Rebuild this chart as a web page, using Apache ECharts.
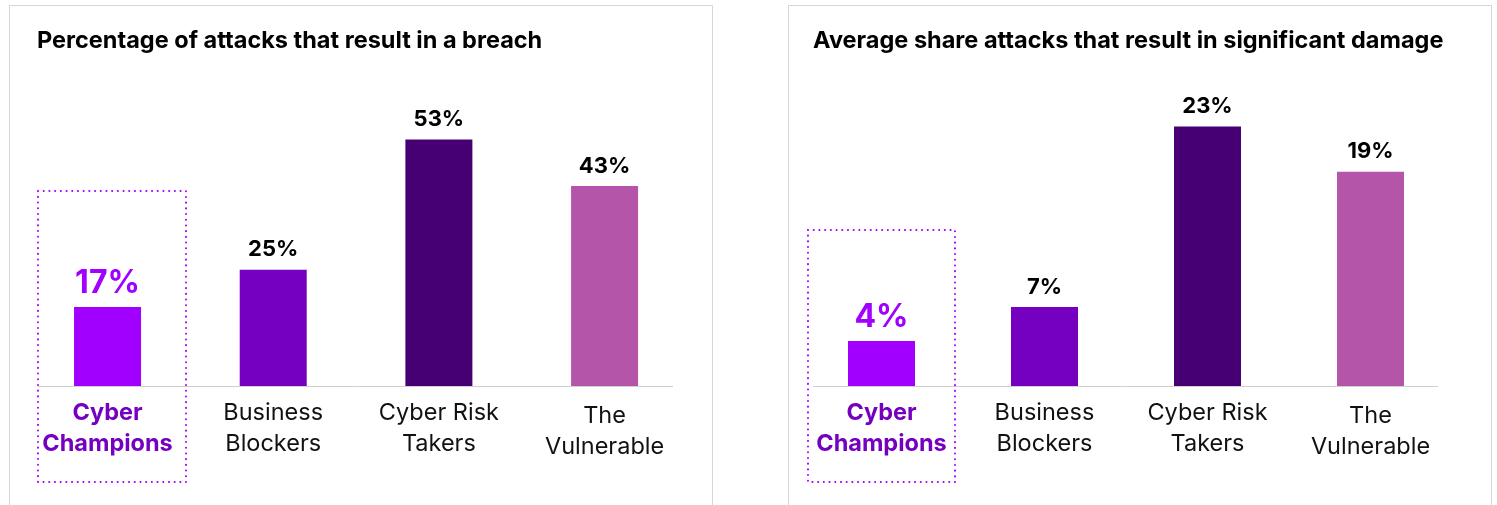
<!DOCTYPE html>
<html>
<head>
<meta charset="utf-8">
<script src="https://cdn.jsdelivr.net/npm/echarts@6/dist/echarts.min.js"></script>
<style>
html,body{margin:0;padding:0;background:#fff;}
#chart{width:1497px;height:505px;}
</style>
</head>
<body>
<div id="chart"></div>
<script>
const categories = ['Cyber\nChampions', 'Business\nBlockers', 'Cyber Risk\nTakers', 'The\nVulnerable'];
const breachValues = [17, 25, 53, 43];
const damageValues = [4, 7, 23, 19];
const barColors = ['#A100FF', '#7500C0', '#460073', '#B455AA'];
const titles = ['Percentage of attacks that result in a breach', 'Average share attacks that result in significant damage'];

const FONT = 'Inter, "Open Sans", sans-serif';

function catData() {
  return categories.map((c, i) => {
    if (i === 0) return { value: c, textStyle: { fontWeight: 'bold', color: '#7500C0' } };
    if (i === 3) return { value: c, textStyle: { padding: [3, 0, 0, 0] } };
    return { value: c };
  });
}
function barData(vals) {
  return vals.map((v, i) => {
    const d = { value: v, itemStyle: { color: barColors[i] } };
    if (i === 0) d.label = { fontSize: 32, color: '#A100FF', distance: 8 };
    return d;
  });
}
function xAxis(gi) {
  return {
    type: 'category', gridIndex: gi, data: catData(),
    axisLine: { show: false }, axisTick: { show: false },
    axisLabel: { fontFamily: FONT, fontSize: 23.5, lineHeight: 31, color: '#111', margin: 11, interval: 0 }
  };
}
function yAxis(gi, max) {
  return { type: 'value', gridIndex: gi, min: 0, max: max, show: false, splitLine: { show: false } };
}
function series(gi, vals) {
  return {
    type: 'bar', xAxisIndex: gi, yAxisIndex: gi, data: barData(vals), barWidth: 67,
    label: { show: true, position: 'top', formatter: '{c}%', fontFamily: FONT, fontWeight: 'bold', fontSize: 22, color: '#000', distance: 9 },
    animation: false
  };
}

const chart = echarts.init(document.getElementById('chart'), null, { renderer: 'canvas' });
chart.setOption({
  animation: false,
  title: [
    { text: titles[0], left: 37, top: 29, padding: 0, textStyle: { fontFamily: FONT, fontWeight: 'bold', fontSize: 23.5, color: '#000' } },
    { text: titles[1], left: 813, top: 29, padding: 0, textStyle: { fontFamily: FONT, fontWeight: 'bold', fontSize: 23.5, color: '#000' } }
  ],
  grid: [
    { left: 24.7, width: 662.7, top: 107, height: 279 },
    { left: 800, width: 652, top: 104, height: 282 }
  ],
  xAxis: [xAxis(0), xAxis(1)],
  yAxis: [yAxis(0, 60), yAxis(1, 25)],
  series: [series(0, breachValues), series(1, damageValues)],
  graphic: [
    { type: 'rect', shape: { x: 9.5, y: 5.5, width: 703, height: 510 }, style: { fill: 'none', stroke: '#d6d6d6', lineWidth: 1 }, silent: true },
    { type: 'rect', shape: { x: 788.5, y: 5.5, width: 703, height: 510 }, style: { fill: 'none', stroke: '#d6d6d6', lineWidth: 1 }, silent: true },
    { type: 'line', shape: { x1: 38, y1: 386.5, x2: 673, y2: 386.5 }, style: { stroke: '#cfcfcf', lineWidth: 1 }, silent: true, z: 5 },
    { type: 'line', shape: { x1: 813, y1: 386.5, x2: 1438, y2: 386.5 }, style: { stroke: '#cfcfcf', lineWidth: 1 }, silent: true, z: 5 },
    { type: 'rect', shape: { x: 38, y: 191, width: 148, height: 291 }, style: { fill: 'none', stroke: '#A100FF', lineWidth: 2, lineDash: [0.1, 5.6], lineCap: 'round' }, silent: true, z: 10 },
    { type: 'rect', shape: { x: 808, y: 230, width: 147, height: 252 }, style: { fill: 'none', stroke: '#A100FF', lineWidth: 2, lineDash: [0.1, 5.6], lineCap: 'round' }, silent: true, z: 10 }
  ]
});
</script>
</body>
</html>
